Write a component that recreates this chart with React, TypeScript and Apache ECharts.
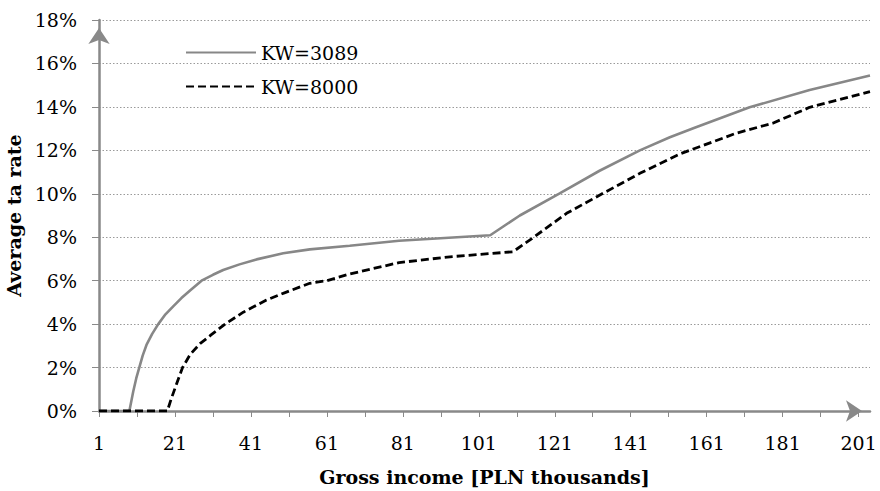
import React, { useEffect, useRef } from "react";
import * as echarts from "echarts";

// Gross income [PLN thousands] and average tax rate [%]
const kw3089X = [1, 9, 10, 10.8, 11.6, 12.5, 13.5, 15, 16.6, 18.5, 20.6, 22.7, 24.9, 28, 31, 33.7, 38, 42.5, 49.5, 56.5, 67, 80, 104, 111.8, 122.3, 132.8, 143.4, 151.3, 158, 172.3, 188.1, 204];
const kw3089Y = [0, 0, 0.89, 1.5, 2.0, 2.55, 3.04, 3.55, 4.0, 4.45, 4.83, 5.2, 5.54, 6.0, 6.27, 6.49, 6.75, 6.98, 7.26, 7.44, 7.61, 7.84, 8.09, 9.0, 10.02, 11.06, 12.0, 12.6, 13.05, 13.98, 14.78, 15.45];

const kw8000X = [1, 19, 20, 21, 23, 25, 27.6, 30.5, 34.2, 39, 45.1, 50, 56.5, 61, 67, 80, 93.4, 110, 115.7, 124.1, 133.7, 143.4, 153.9, 168.8, 178.4, 188.1, 204];
const kw8000Y = [0, 0, 0.55, 1.04, 2.0, 2.6, 3.1, 3.5, 4.0, 4.55, 5.11, 5.45, 5.88, 6.0, 6.31, 6.83, 7.1, 7.33, 8.03, 9.1, 10.02, 10.94, 11.83, 12.79, 13.25, 13.98, 14.7];

const seriesNames = ["KW=3089", "KW=8000"];
const xTickValues = [1, 11, 21, 31, 41, 51, 61, 71, 81, 91, 101, 111, 121, 131, 141, 151, 161, 171, 181, 191, 201];
const xLabelValues = [1, 21, 41, 61, 81, 101, 121, 141, 161, 181, 201];
const yTicks = [0, 2, 4, 6, 8, 10, 12, 14, 16, 18];

const FONT = "DejaVu Serif";
const AXIS_GRAY = "#898989";

export default function App() {
  const ref = useRef<HTMLDivElement>(null);
  useEffect(() => {
    if (!ref.current) return;
    const chart = echarts.init(ref.current, undefined, { renderer: "svg" });
    const pair = (xs: number[], ys: number[]) => xs.map((x, i) => [x, ys[i]]);
    chart.setOption({
      animation: false,
      backgroundColor: "#ffffff",
      textStyle: { fontFamily: FONT },
      grid: { left: 99, right: 10, top: 20, bottom: 80, containLabel: false, outerBoundsMode: "none" },
      legend: {
        orient: "vertical",
        left: 180,
        top: 38,
        itemWidth: 70,
        itemHeight: 20,
        itemGap: 15,
        data: seriesNames,
        itemStyle: { opacity: 0, color: "transparent", borderWidth: 0 },
        textStyle: { fontFamily: FONT, fontSize: 19, color: "#000" },
      },
      xAxis: {
        type: "value",
        min: 1,
        max: 204,
        name: "Gross income [PLN thousands]",
        nameLocation: "middle",
        nameGap: 56,
        nameTextStyle: { fontFamily: FONT, fontSize: 19, fontWeight: "bold", color: "#000" },
        axisLine: {
          show: true,
          lineStyle: { color: AXIS_GRAY, width: 2.5 },
          symbol: ["none", "arrow"],
          symbolSize: [16, 16],
          symbolOffset: [0, -8],
        },
        axisTick: { show: true, length: 6, customValues: xTickValues, lineStyle: { color: AXIS_GRAY, width: 1 } },
        axisLabel: { customValues: xLabelValues, margin: 22, fontFamily: FONT, fontSize: 19, color: "#000" },
        splitLine: { show: false },
      },
      yAxis: {
        type: "value",
        min: 0,
        max: 18,
        interval: 2,
        name: "Average ta rate",
        nameLocation: "middle",
        nameGap: 70,
        nameTextStyle: { fontFamily: FONT, fontSize: 19, fontWeight: "bold", color: "#000" },
        axisLine: {
          show: true,
          lineStyle: { color: AXIS_GRAY, width: 2.5 },
          symbol: ["none", "arrow"],
          symbolSize: [16, 16],
          symbolOffset: [0, -8],
        },
        axisTick: { show: true, length: 7, customValues: yTicks, lineStyle: { color: AXIS_GRAY, width: 1 } },
        axisLabel: { formatter: "{value}%", margin: 22, fontFamily: FONT, fontSize: 19, color: "#000" },
        splitLine: { show: true, lineStyle: { color: "#9a9a9a", width: 1, type: [1.5, 2] } },
      },
      series: [
        {
          name: seriesNames[0],
          type: "line",
          data: pair(kw3089X, kw3089Y),
          symbol: "none",
          smooth: false,
          lineStyle: { color: "#878787", width: 2.6, type: "solid" },
          itemStyle: { color: "#878787" },
          z: 2,
        },
        {
          name: seriesNames[1],
          type: "line",
          data: pair(kw8000X, kw8000Y),
          symbol: "none",
          smooth: false,
          lineStyle: { color: "#000000", width: 2.8, type: [8, 4] },
          itemStyle: { color: "#000000" },
          z: 3,
        },
      ],
    });
    return () => chart.dispose();
  }, []);
  return (
    <div
      ref={ref}
      style={{ position: "fixed", left: 0, top: 0, width: 880, height: 491, background: "#fff" }}
    />
  );
}
